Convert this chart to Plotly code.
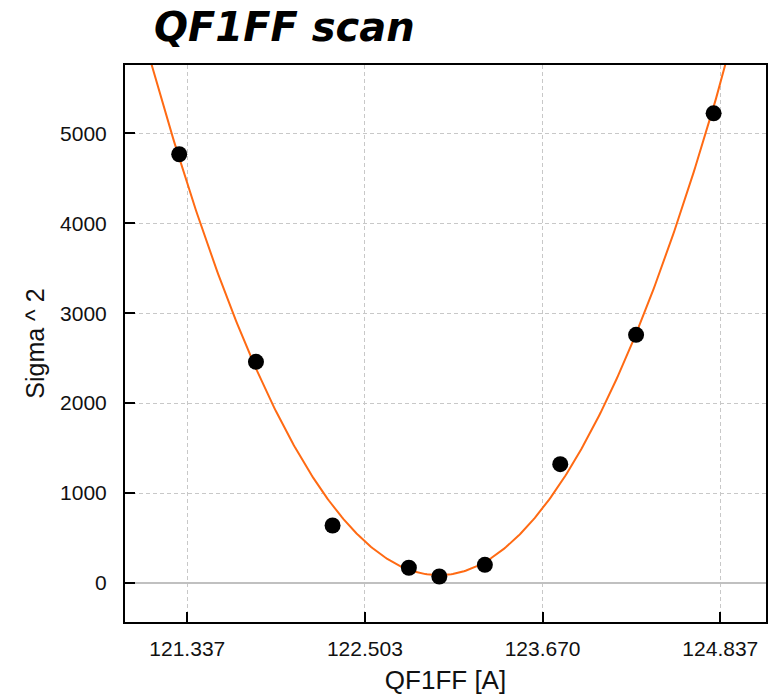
import numpy as np
import plotly.graph_objects as go

# Measured scan points: magnet current [A] vs. beam size squared
current = [121.284, 121.788, 122.291, 122.792, 122.992, 123.291, 123.786, 124.284, 124.793]
sigma_sq = [4767, 2459, 640, 170, 73, 203, 1322, 2759, 5222]

# Tick labels on the current axis
x_ticks = [121.337, 122.503, 123.670, 124.837]
x_tick_text = ["121.337", "122.503", "123.670", "124.837"]
y_ticks = [0, 1000, 2000, 3000, 4000, 5000]

x_range = [120.928, 125.137]
y_range = [-433, 5759]

# Quadratic fit through the scan
coef = np.polyfit(current, sigma_sq, 2)
x_fit = np.linspace(x_range[0], x_range[1], 400)
y_fit = np.polyval(coef, x_fit)

fig = go.Figure()
fig.add_trace(go.Scatter(
    x=x_fit, y=y_fit, mode="lines",
    line=dict(color="#ff6a13", width=2),
    hoverinfo="skip", showlegend=False,
))
fig.add_trace(go.Scatter(
    x=current, y=sigma_sq, mode="markers",
    marker=dict(color="black", size=16),
    showlegend=False,
))

sans = "Liberation Sans, Arial, sans-serif"
tick_font = dict(family=sans, size=21, color="#111111")

fig.update_layout(
    width=777, height=699,
    margin=dict(l=125, r=11, t=65, b=77),
    paper_bgcolor="white", plot_bgcolor="white",
    title=dict(
        text="QF1FF scan",
        font=dict(family="DejaVu Sans", size=40, color="black", weight="bold", style="italic"),
        x=154 / 777, xref="container", xanchor="left",
        y=1 - 27 / 699, yref="container", yanchor="middle",
    ),
    xaxis=dict(
        range=x_range, tickvals=x_ticks, ticktext=x_tick_text,
        automargin=False,
        showgrid=True, gridcolor="#c8c8c8", griddash="4px,3px", gridwidth=1,
        zeroline=False,
        showline=True, linecolor="black", linewidth=2, mirror=True,
        ticks="inside", ticklen=10, tickwidth=1.5, tickcolor="black",
        tickfont=tick_font, ticklabelstandoff=7,
        title=dict(text="QF1FF [A]", font=dict(family=sans, size=26, color="#111111"), standoff=12),
    ),
    yaxis=dict(
        range=y_range, tickvals=y_ticks,
        automargin=False,
        showgrid=True, gridcolor="#c8c8c8", griddash="4px,3px", gridwidth=1,
        zeroline=True, zerolinecolor="#c0c0c0", zerolinewidth=1.5,
        showline=True, linecolor="black", linewidth=2, mirror=True,
        ticks="inside", ticklen=10, tickwidth=1.5, tickcolor="black",
        tickfont=tick_font, ticklabelstandoff=12,
        title=dict(text="Sigma ^ 2", font=dict(family=sans, size=25, color="#111111"), standoff=8),
    ),
)

fig.write_html("out.html")
